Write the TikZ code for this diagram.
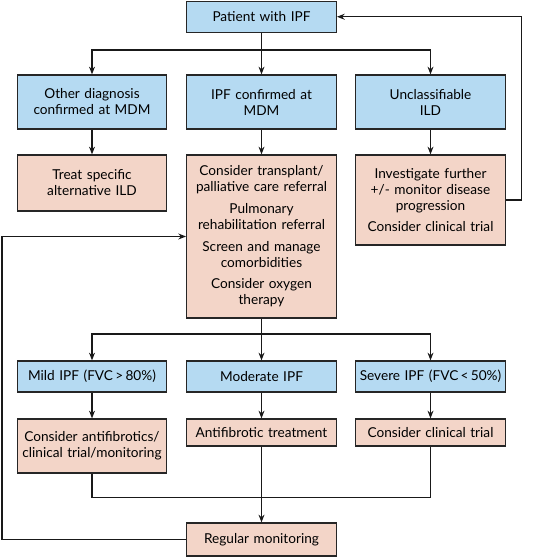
\documentclass[tikz,border=0pt]{standalone}
\usepackage{fontspec}
\setmainfont{Lato}
\usetikzlibrary{positioning, arrows.meta}

\definecolor{boxblue}{RGB}{181,218,242}
\definecolor{boxpink}{RGB}{243,213,200}

\tikzset{
  base/.style={draw=black!85,line width=0.85pt,align=center,inner sep=2pt,
               text width=3.6cm,font=\fontsize{9.7}{11.4}\selectfont},
  diag/.style={base,fill=boxblue},
  act/.style={base,fill=boxpink},
  link/.style={line width=0.75pt,black!90}
}

\begin{document}
\begin{tikzpicture}[x=0.025cm,y=-0.025cm,>={Stealth[length=5.5pt,width=4.2pt]}]
  \useasboundingbox (0,0) rectangle (555,557);
  % diagnosis
  \node[diag,minimum height=31*0.025cm] (pat) at (261.5,16.75){Patient with IPF};
  \node[diag,minimum height=54*0.025cm] (other) at (92,102){Other diagnosis\\confirmed at MDM};
  \node[diag,minimum height=54*0.025cm] (conf) at (261.5,102){IPF confirmed at\\MDM};
  \node[diag,minimum height=54*0.025cm] (uncl) at (430.5,102){Unclassifiable\\ILD};
  % management
  \node[act,minimum height=56*0.025cm] (treat) at (92,183){Treat specific\\alternative ILD};
  \node[act,minimum height=163*0.025cm] (care) at (261.5,236.5)
       {Consider transplant/\\palliative care referral\\[4pt]
        Pulmonary\\rehabilitation referral\\[4pt]
        Screen and manage\\comorbidities\\[4pt]
        Consider oxygen\\therapy};
  \node[act,minimum height=90*0.025cm] (inv) at (430.5,200)
       {Investigate further\\+/- monitor disease\\progression\\[4pt]
        Consider clinical trial};
  % severity
  \node[diag,minimum height=31*0.025cm] (mild) at (92,376.5){Mild IPF (FVC\,>\,80\%)};
  \node[diag,minimum height=31*0.025cm] (mod) at (261.5,376.5){Moderate IPF};
  \node[diag,minimum height=31*0.025cm] (sev) at (430.5,376.5){Severe IPF (FVC\,<\,50\%)};
  \node[act,minimum height=54*0.025cm] (anti) at (92,446){Consider antifibrotics/\\clinical trial/monitoring};
  \node[act,minimum height=27*0.025cm] (antib) at (261.5,432.5){Antifibrotic treatment};
  \node[act,minimum height=27*0.025cm] (trial) at (430.5,432.5){Consider clinical trial};
  \node[act,minimum height=33*0.025cm] (mon) at (261.5,539.5){Regular monitoring};
  % connectors
  \coordinate (split1) at (261.5,50);
  \coordinate (split2) at (261.5,334);
  \coordinate (join) at (261.5,497.5);
  \coordinate (loop) at (2,0);
  \draw[->,link](pat)--(conf);
  \draw[->,link](split1)-|(other);
  \draw[->,link](split1)-|(uncl);
  \draw[->,link](other)--(treat);
  \draw[->,link](conf)--(care);
  \draw[->,link](uncl)--(inv);
  \draw[->,link](care)--(mod);
  \draw[->,link](split2)-|(mild);
  \draw[->,link](split2)-|(sev);
  \draw[->,link](mild)--(anti);
  \draw[->,link](mod)--(antib);
  \draw[->,link](sev)--(trial);
  \draw[link](anti)|-(join)-|(trial);
  \draw[->,link](antib)--(mon);
  % feedback
  \draw[->,link](inv.east)--++(16,0)|-(pat.east);
  \draw[->,link](mon.west)--(mon.west-|loop)--(care.west-|loop)--(care.west);
\end{tikzpicture}
\end{document}
